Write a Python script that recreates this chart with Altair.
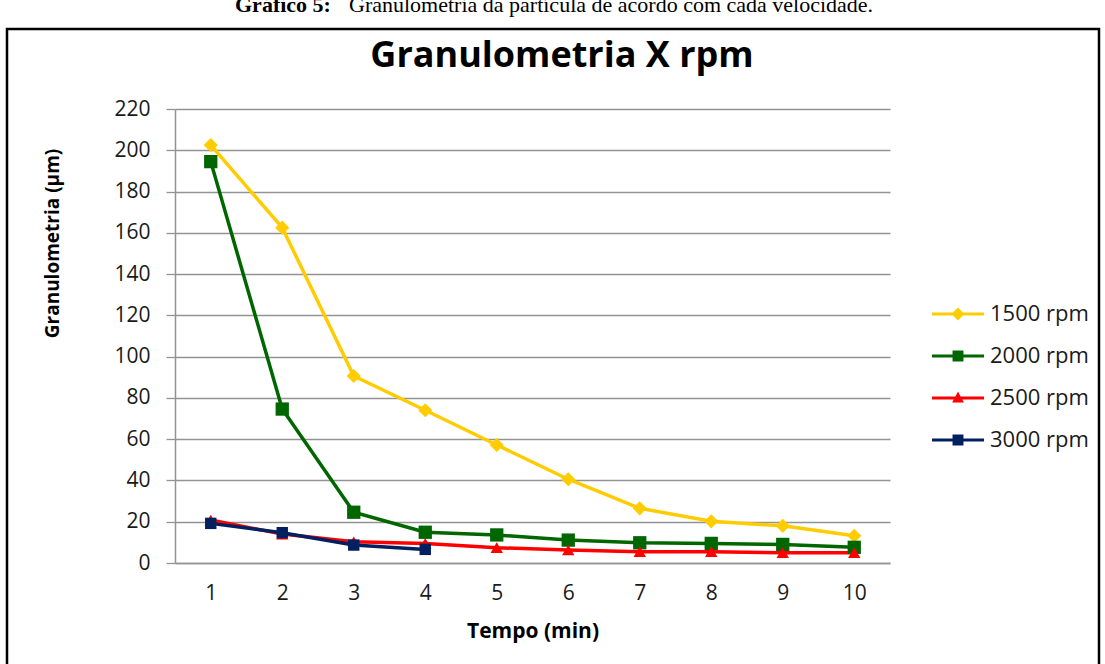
import altair as alt
import pandas as pd

tempo = [1, 2, 3, 4, 5, 6, 7, 8, 9, 10]
rpm1500 = [202.5, 162.5, 90.6, 74.0, 57.2, 40.6, 26.5, 20.2, 18.0, 13.2]
rpm2000 = [194.5, 74.6, 24.6, 14.9, 13.6, 11.1, 9.8, 9.5, 9.0, 7.6]
rpm2500 = [20.8, 14.0, 10.3, 9.5, 7.4, 6.3, 5.5, 5.5, 5.0, 5.0]
rpm3000 = [19.2, 14.7, 8.7, 6.6]

series = ["1500 rpm", "2000 rpm", "2500 rpm", "3000 rpm"]
colors = ["#FFCC00", "#006600", "#FF0000", "#002060"]
shapes = ["diamond", "square", "triangle-up", "square"]
sizes = [200, 130, 160, 130]
legend_paths = [
    "M-2,-0.12L-0.38,-0.12L0,-0.5L0.38,-0.12L2,-0.12L2,0.12L0.38,0.12L0,0.5L-0.38,0.12L-2,0.12Z",
    "M-2,-0.12L-0.42,-0.12L-0.42,-0.42L0.42,-0.42L0.42,-0.12L2,-0.12L2,0.12L0.42,0.12L0.42,0.42L-0.42,0.42L-0.42,0.12L-2,0.12Z",
    "M-2,-0.12L-0.2,-0.12L0,-0.5L0.2,-0.12L2,-0.12L2,0.12L0.33,0.12L0.45,0.35L-0.45,0.35L-0.33,0.12L-2,0.12Z",
    "M-2,-0.12L-0.42,-0.12L-0.42,-0.42L0.42,-0.42L0.42,-0.12L2,-0.12L2,0.12L0.42,0.12L0.42,0.42L-0.42,0.42L-0.42,0.12L-2,0.12Z",
]

caption_bold = "Gráfico 5:"
caption_rest = "Granulometria da partícula de acordo com cada velocidade."
chart_title = "Granulometria X rpm"

rows = []
for name, vals in zip(series, [rpm1500, rpm2000, rpm2500, rpm3000]):
    for t, v in zip(tempo, vals):
        rows.append({"tempo": t, "gran": v, "serie": name})
df = pd.DataFrame(rows)

GRAY = "#939393"
FONT = "Open Sans"

x_enc = alt.X(
    "tempo:O",
    scale=alt.Scale(type="point", padding=0.5),
    axis=alt.Axis(
        labelAngle=0, ticks=False, grid=False, domainColor=GRAY, domainWidth=1.5,
        labelFont=FONT, labelFontSize=21, labelColor="#1a1a1a", labelPadding=19,
        titleFont=FONT, titleFontSize=21, titleFontWeight="bold", titleColor="#000",
        titleBaseline="alphabetic", titleY=74,
    ),
    title="Tempo (min)",
)
y_enc = alt.Y(
    "gran:Q",
    scale=alt.Scale(domain=[0, 220], nice=False),
    axis=alt.Axis(
        values=list(range(0, 221, 20)), grid=True, gridColor=GRAY, gridWidth=1.3,
        domainColor=GRAY, domainWidth=1.5, tickColor=GRAY, tickSize=9, tickWidth=1.3,
        labelFont=FONT, labelFontSize=21, labelColor="#1a1a1a", labelPadding=16,
        titleFont=FONT, titleFontSize=19, titleFontWeight="bold", titleColor="#000",
        titleX=-123, titleY=134, titleBaseline="middle", titleAngle=-90,
    ),
    title="Granulometria (µm)",
)

color_nolegend = alt.Color("serie:N", scale=alt.Scale(domain=series, range=colors), legend=None)

lines = alt.Chart(df).mark_line(strokeWidth=3.5).encode(
    x=x_enc, y=y_enc, color=color_nolegend, detail="serie:N"
)
points = alt.Chart(df).mark_point(filled=True, opacity=1).encode(
    x=x_enc, y=y_enc, color=color_nolegend,
    shape=alt.Shape("serie:N", scale=alt.Scale(domain=series, range=shapes), legend=None),
    size=alt.Size("serie:N", scale=alt.Scale(domain=series, range=sizes), legend=None),
)

leg = dict(
    orient="none", legendX=770, legendY=192, title=None, symbolSize=676,
    labelFont=FONT, labelFontSize=22, labelColor="#1a1a1a", labelOffset=19,
    rowPadding=18, padding=0, symbolStrokeWidth=0, symbolOpacity=1,
)
legend_layer = alt.Chart(df).mark_point(filled=True, opacity=1).encode(
    x=x_enc, y=y_enc,
    color=alt.Color("serie:N", scale=alt.Scale(domain=series, range=colors), legend=alt.Legend(**leg)),
    shape=alt.Shape("serie:N", scale=alt.Scale(domain=series, range=legend_paths), legend=alt.Legend(**leg)),
).transform_filter("datum.tempo < 0")

one = pd.DataFrame({"k": [0]})
frame = alt.Chart(one).mark_rect(fillOpacity=0, stroke="black", strokeWidth=2.5).encode(
    x=alt.value(-168), x2=alt.value(924), y=alt.value(-80), y2=alt.value(620)
)
cap1 = alt.Chart(one).mark_text(
    align="left", baseline="alphabetic", font="Liberation Serif", fontSize=22,
    fontWeight="bold", color="#000"
).encode(x=alt.value(60), y=alt.value(-97), text=alt.value(caption_bold))
cap2 = alt.Chart(one).mark_text(
    align="left", baseline="alphabetic", font="Liberation Serif", fontSize=22, color="#000"
).encode(x=alt.value(174), y=alt.value(-97), text=alt.value(caption_rest))
title = alt.Chart(one).mark_text(
    align="center", baseline="alphabetic", font=FONT, fontSize=36, fontWeight="bold", color="#000"
).encode(x=alt.value(387), y=alt.value(-42), text=alt.value(chart_title))

chart = alt.layer(frame, lines, points, legend_layer, cap1, cap2, title).resolve_scale(
    color="independent", shape="independent", size="independent"
).properties(
    width=715, height=454,
    padding={"left": 175, "top": 109, "right": 215, "bottom": 101},
    autosize=alt.AutoSizeParams(type="none"),
    background="white",
).configure_view(stroke=None)

chart.save("out.html", embed_options={"renderer": "svg", "actions": False})
